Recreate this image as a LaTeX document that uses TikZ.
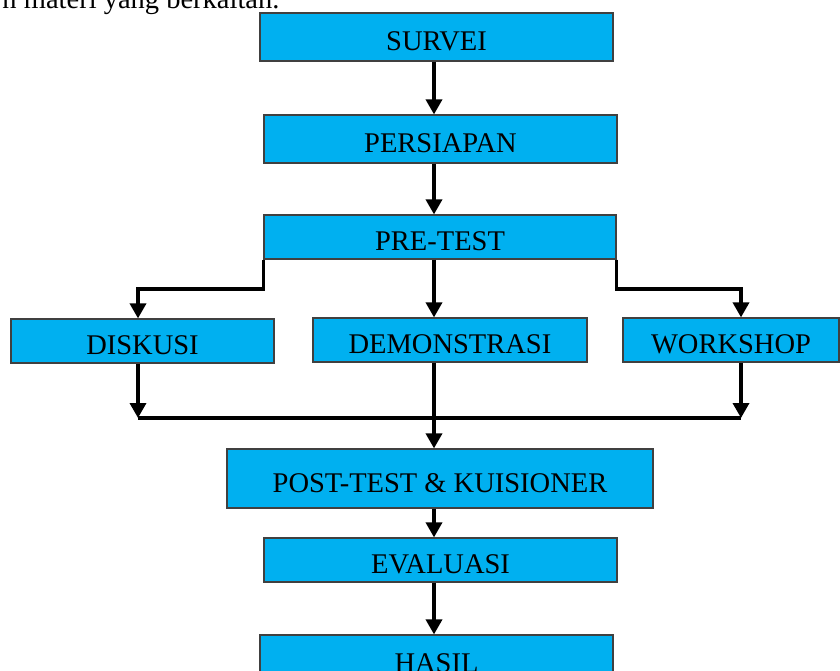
\documentclass[tikz,border=0pt]{standalone}
\usepackage{fontspec}
\setmainfont{Liberation Serif}
\usepackage{tikz}
\usetikzlibrary{arrows.meta}
\definecolor{stageblue}{HTML}{00B0F0}
\tikzset{
  every stage/.style={draw=black!75,line width=1.2pt,fill=stageblue,
    font=\fontsize{28.5}{30}\selectfont,text height=27pt,text depth=0pt,inner sep=0pt},
  flow/.style={line width=3.5pt,-{Triangle[width=16pt,length=15pt]}},
  link/.style={line width=3.5pt},
}

\begin{document}
\begin{tikzpicture}[x=1pt,y=-1pt]
\useasboundingbox (0,0) rectangle (840,671);
\node[anchor=base east,font=\fontsize{28.5}{30}\selectfont] (lead) at (283,9) {n materi yang berkaitan.};
\node[every stage,minimum width=353,minimum height=48] (survei) at (436.5,37) {SURVEI};
\node[every stage,minimum width=353,minimum height=48] (persiapan) at (440.5,139) {PERSIAPAN};
\node[every stage,minimum width=352,minimum height=44] (pretest) at (440,237) {PRE-TEST};
\node[every stage,minimum width=263,minimum height=44] (diskusi) at (142.5,341) {DISKUSI};
\node[every stage,minimum width=274,minimum height=44] (demo) at (450,340) {DEMONSTRASI};
\node[every stage,minimum width=216,minimum height=44] (workshop) at (731,340) {WORKSHOP};
\node[every stage,minimum width=426,minimum height=59] (post) at (440,478.5) {POST-TEST \& KUISIONER};
\node[every stage,minimum width=353,minimum height=44] (evaluasi) at (440.5,560) {EVALUASI};
\node[every stage,minimum width=353,minimum height=48] (hasil) at (436.5,659) {HASIL};
\coordinate (axis) at (434,0);
\coordinate (lcol) at (138,0);
\coordinate (rcol) at (741,0);
\coordinate (split) at (0,289);
\coordinate (join) at (0,418);
\foreach \a/\b in {survei/persiapan, persiapan/pretest, pretest/demo, demo/post, post/evaluasi, evaluasi/hasil}
{
  \draw[flow] (\a.south -| axis) -- (\b.north -| axis);
}
\draw[flow] (pretest.south west) -- (pretest.south west |- split) -| (diskusi.north -| lcol);
\draw[flow] (pretest.south east) -- (pretest.south east |- split) -| (workshop.north -| rcol);
\draw[flow] (diskusi.south -| lcol) -- (join -| lcol);
\draw[flow] (workshop.south -| rcol) -- (join -| rcol);
\draw[link] (join -| lcol) -- (join -| rcol);
\end{tikzpicture}
\end{document}
